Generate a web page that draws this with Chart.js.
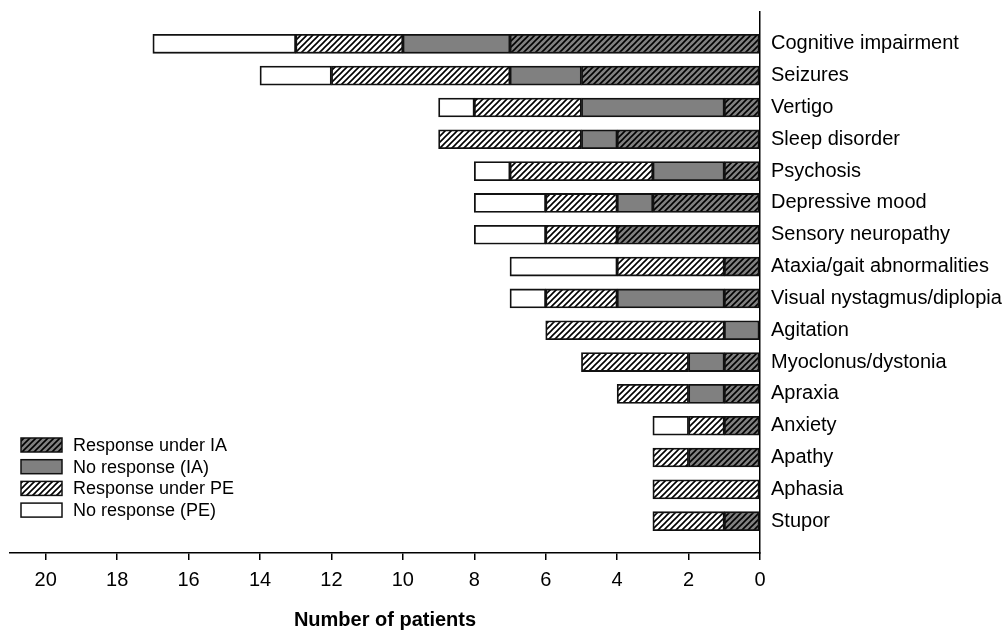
<!DOCTYPE html>
<html lang="en">
<head>
  <meta charset="UTF-8" />
  <title>Symptom response</title>
  <style>
    body {
      margin: 0;
      background: #fff;
    }
    .wrap {
      width: 1005px;
      height: 632px;
      position: relative;
    }
  </style>
</head>
<body>
  <div class="wrap">
    <canvas id="symptomChart"></canvas>
  </div>

  <script src="https://cdn.jsdelivr.net/npm/chart.js"></script>
  <script>
    const symptoms = ['Cognitive impairment', 'Seizures', 'Vertigo', 'Sleep disorder', 'Psychosis',
                      'Depressive mood', 'Sensory neuropathy', 'Ataxia/gait abnormalities',
                      'Visual nystagmus/diplopia', 'Agitation', 'Myoclonus/dystonia', 'Apraxia',
                      'Anxiety', 'Apathy', 'Aphasia', 'Stupor'];

    const responseIA   = [7, 5, 1, 4, 1, 3, 4, 1, 1, 0, 1, 1, 1, 2, 0, 1];
    const noResponseIA = [3, 2, 4, 1, 2, 1, 0, 0, 3, 1, 1, 1, 0, 0, 0, 0];
    const responsePE   = [3, 5, 3, 4, 4, 2, 2, 3, 2, 5, 3, 2, 1, 1, 3, 2];
    const noResponsePE = [4, 2, 1, 0, 1, 2, 2, 3, 1, 0, 0, 0, 1, 0, 0, 0];

    const xTicksMax = 21;
    const font = 'Arial, "Liberation Sans", sans-serif';

    // hatch "/" pattern on a given background
    function hatch(bg) {
      const c = document.createElement('canvas');
      c.width = 6;
      c.height = 6;
      const g = c.getContext('2d');
      g.fillStyle = bg;
      g.fillRect(0, 0, 6, 6);
      g.strokeStyle = '#000';
      g.lineWidth = 1.6;
      g.beginPath();
      g.moveTo(-1, 7); g.lineTo(7, -1);
      g.moveTo(-4, 4); g.lineTo(4, -4);
      g.moveTo(2, 10); g.lineTo(10, 2);
      g.stroke();
      return g.createPattern(c, 'repeat');
    }

    // pad with an empty slot at both ends so the axis runs past first/last bar
    const pad = arr => [null, ...arr, null];

    const datasets = [
      { label: 'Response under IA', data: pad(responseIA), backgroundColor: hatch('#808080') },
      { label: 'No response (IA)', data: pad(noResponseIA), backgroundColor: '#808080' },
      { label: 'Response under PE', data: pad(responsePE), backgroundColor: hatch('#ffffff') },
      { label: 'No response (PE)', data: pad(noResponsePE), backgroundColor: '#ffffff' }
    ];
    datasets.forEach(d => {
      d.borderColor = '#111';
      d.borderWidth = 1.8;
      d.borderSkipped = false;
      d.barThickness = 19;
    });

    const insideLegend = {
      id: 'insideLegend',
      afterDraw(chart) {
        const g = chart.ctx;
        g.save();
        g.font = '18px ' + font;
        g.textBaseline = 'middle';
        chart.data.datasets.forEach((d, i) => {
          const y = 445 + i * 21.7;
          g.fillStyle = d.backgroundColor;
          g.fillRect(21, y - 7, 41, 14);
          g.strokeStyle = '#111';
          g.lineWidth = 1.5;
          g.strokeRect(21, y - 7, 41, 14);
          g.fillStyle = '#000';
          g.fillText(d.label, 73, y + 1);
        });
        g.restore();
      }
    };

    const ctx = document.getElementById('symptomChart').getContext('2d');
    new Chart(ctx, {
      type: 'bar',
      data: {
        labels: pad(symptoms).map(s => s || ''),
        datasets: datasets
      },
      options: {
        indexAxis: 'y',
        responsive: true,
        maintainAspectRatio: false,
        animation: false,
        layout: { padding: { top: 12, left: 10, right: 0, bottom: 0 } },
        plugins: {
          legend: { display: false },
          tooltip: { enabled: false }
        },
        scales: {
          x: {
            stacked: true,
            reverse: true,
            min: 0,
            max: xTicksMax,
            grid: { drawOnChartArea: false, drawTicks: true, tickLength: 7, color: '#000', lineWidth: 1.5 },
            border: { display: true, color: '#000', width: 1.5 },
            ticks: {
              stepSize: 2,
              includeBounds: false,
              padding: 8,
              color: '#000',
              font: { family: font, size: 20 }
            },
            title: {
              display: true,
              text: 'Number of patients',
              color: '#000',
              padding: { top: 8, bottom: 0 },
              font: { family: font, size: 20, weight: 'bold' }
            },
            afterFit(scale) {
              scale.paddingLeft = 0;
              scale.paddingRight = 0;
            }
          },
          y: {
            stacked: true,
            position: 'right',
            offset: false,
            grid: { display: false, drawTicks: false },
            border: { display: true, color: '#000', width: 1.5 },
            ticks: {
              padding: 11,
              autoSkip: false,
              color: '#000',
              font: { family: font, size: 20 }
            },
            afterFit(scale) {
              scale.width = 245;
              scale.paddingTop = 0;
              scale.paddingBottom = 0;
            }
          }
        }
      },
      plugins: [insideLegend]
    });
  </script>
</body>
</html>
